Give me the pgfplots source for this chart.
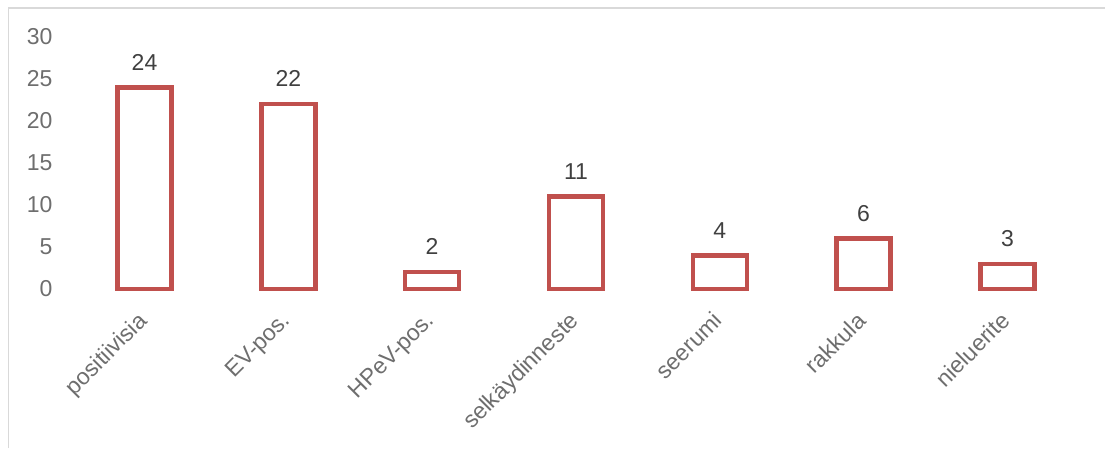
\documentclass[border=0pt]{standalone}
\usepackage{pgfplots}
\pgfplotsset{compat=1.18}
\usepackage{fontspec}
\setmainfont{Liberation Sans}
\definecolor{barred}{HTML}{C0504D}
\definecolor{tickgray}{HTML}{6E6E6E}
\definecolor{txtgray}{HTML}{404040}
\definecolor{bordergray}{HTML}{D9D9D9}
\begin{document}
\begin{tikzpicture}[x=1pt,y=1pt]
\path[use as bounding box] (0,0) rectangle (1105,448);
\draw[bordergray, line width=1.5pt] (8.3,0) -- (8.3,440.2) -- (1105,440.2);
\begin{axis}[
  at={(72.6pt,159pt)}, anchor=south west,
  scale only axis, width=1006.8pt, height=252pt,
  xmin=-0.5, xmax=6.5, ymin=0, ymax=30,
  enlargelimits=false, clip=false,
  axis line style={draw=none}, tick style={draw=none},
  xtick={0,1,2,3,4,5,6},
  xticklabels={positiivisia,EV-pos.,HPeV-pos.,selkäydinneste,seerumi,rakkula,nieluerite},
  ytick={0,5,10,15,20,25,30},
  /pgf/number format/assume math mode=true,
  ticklabel style={font=\fontsize{23}{27}\selectfont, text=tickgray},
  yticklabel style={anchor=east, inner sep=0pt, xshift=-20pt},
  xticklabel style={xshift=-8pt, yshift=-17pt, rotate=45, anchor=north east, inner sep=0pt},
  ybar, bar width=54pt,
  nodes near coords,
  every node near coord/.style={anchor=south, inner sep=0pt, yshift=15pt, font=\fontsize{23}{27}\selectfont, text=txtgray},
]
\addplot[draw=barred, fill=white, line width=4.5pt] coordinates {
  (0,24) (1,22) (2,2) (3,11) (4,4) (5,6) (6,3)
};
\end{axis}
\end{tikzpicture}
\end{document}
